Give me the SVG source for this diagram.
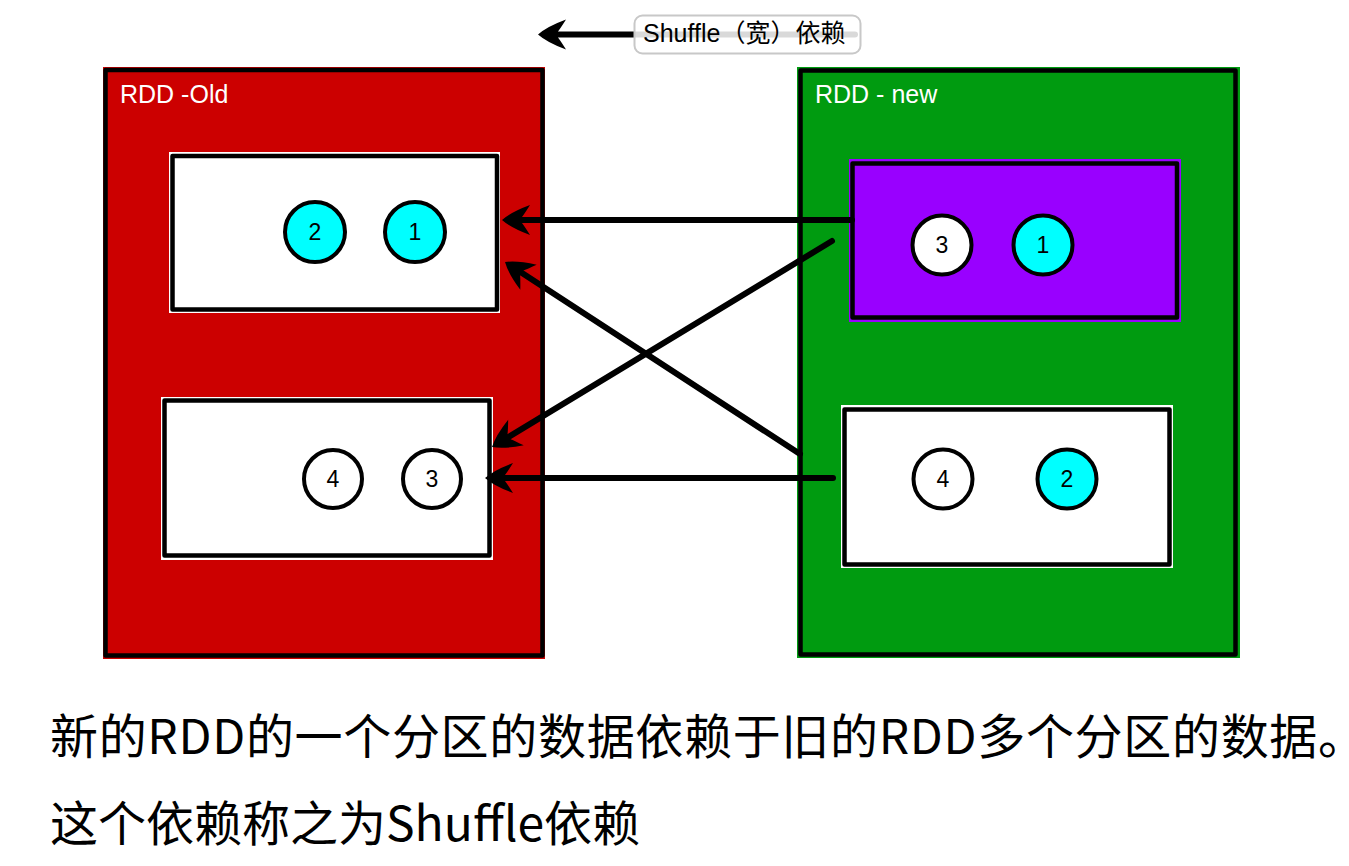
<svg xmlns="http://www.w3.org/2000/svg" width="1349" height="866" viewBox="0 0 1349 866">
<style>
.frame{stroke:#000;stroke-width:4.5;fill:none;stroke-linejoin:round}
.box{stroke:#000;stroke-width:4.5;fill:none;stroke-linejoin:round}
.ctitle{font-family:"Liberation Sans",Arial,sans-serif;font-size:25px;fill:#fff}
.dot{stroke:#000;stroke-width:4}
.cyan{fill:#00FFFF}
.white{fill:#FFFFFF}
.num{font-family:"Liberation Sans",Arial,sans-serif;font-size:23px;fill:#000;text-anchor:middle}
.conn{stroke:#000;stroke-width:6;stroke-linecap:round;fill:none}
.caption{font-family:"Noto Sans CJK SC","Liberation Sans",sans-serif;font-size:48px;fill:#000}
.half{font-feature-settings:"halt" 1}
.legend{font-family:"Liberation Sans","Noto Sans CJK SC",sans-serif;font-size:25px;fill:#000}
</style>
<defs>
<marker id="ah" markerUnits="userSpaceOnUse" markerWidth="60" markerHeight="60" viewBox="-40 -30 60 60" refX="-18" refY="0" orient="auto" overflow="visible">
<path d="M0,0 Q-9,-8 -28,-15 Q-23,-7 -20,-3 L-20,3 Q-23,7 -28,15 Q-9,8 0,0 Z" fill="#000"/>
</marker>
</defs>
<rect width="1349" height="866" fill="#fff"/>

<g id="rdd-old">
<rect x="103" y="67" width="442" height="592" fill="#CC0000"/>
<rect class="frame" x="105.5" y="70" width="437" height="585.5"/>
<text class="ctitle" x="120" y="103">RDD -Old</text>
</g>
<g id="rdd-new">
<rect x="797" y="67" width="443" height="591" fill="#009B10"/>
<rect class="frame" x="800.5" y="70.5" width="435" height="584"/>
<text class="ctitle" x="815" y="103">RDD - new</text>
</g>

<g id="old-partition-1">
<rect x="169" y="152" width="331" height="161" fill="#fff"/>
<rect class="box" x="172.5" y="156" width="324.5" height="153.5"/>
<g id="old-p1-item-2"><circle class="dot cyan" cx="315" cy="232" r="30"/><text class="num" x="315" y="240">2</text></g>
<g id="old-p1-item-1"><circle class="dot cyan" cx="415" cy="232" r="30"/><text class="num" x="415" y="240">1</text></g>
</g>
<g id="old-partition-2">
<rect x="161" y="397" width="332" height="163" fill="#fff"/>
<rect class="box" x="164.5" y="400.5" width="325" height="155"/>
<g id="old-p2-item-4"><circle class="dot white" cx="333" cy="479" r="29"/><text class="num" x="333" y="487">4</text></g>
<g id="old-p2-item-3"><circle class="dot white" cx="432" cy="479" r="29"/><text class="num" x="432" y="487">3</text></g>
</g>
<g id="new-partition-1">
<rect x="849" y="159" width="332" height="163" fill="#9900FF"/>
<rect class="box" x="852.5" y="163.5" width="324.5" height="154"/>
<g id="new-p1-item-3"><circle class="dot white" cx="942" cy="245" r="29.5"/><text class="num" x="942" y="253">3</text></g>
<g id="new-p1-item-1"><circle class="dot cyan" cx="1043" cy="245" r="29.5"/><text class="num" x="1043" y="253">1</text></g>
</g>
<g id="new-partition-2">
<rect x="841" y="405" width="332" height="163" fill="#fff"/>
<rect class="box" x="844.5" y="409.5" width="325" height="155"/>
<g id="new-p2-item-4"><circle class="dot white" cx="943" cy="479" r="29.5"/><text class="num" x="943" y="487">4</text></g>
<g id="new-p2-item-2"><circle class="dot cyan" cx="1067" cy="479" r="29.5"/><text class="num" x="1067" y="487">2</text></g>
</g>

<g id="connectors">
<path class="conn" d="M852,220 L520,220" marker-end="url(#ah)"/>
<path class="conn" d="M800,454 L520.1,271.8" marker-end="url(#ah)"/>
<path class="conn" d="M832,241 L507.4,437.7" marker-end="url(#ah)"/>
<path class="conn" d="M833,478 L503,478" marker-end="url(#ah)"/>
</g>

<g id="legend">
<path class="conn" d="M855,34.5 L556,34.5" marker-end="url(#ah)"/>
<rect x="634.5" y="15.5" width="226" height="38" rx="8" fill="#fff" fill-opacity="0.85" stroke="#c8c8c8" stroke-width="2"/>
<text class="legend" x="643" y="42">Shuffle（宽）依赖</text>
</g>

<g id="caption">
<text class="caption" x="50" y="754" textLength="1292" lengthAdjust="spacing">新的RDD的一个分区的数据依赖于旧的RDD多个分区的数据<tspan class="half">。</tspan></text>
<text class="caption" x="50" y="841">这个依赖称之为Shuffle依赖</text>
</g>
</svg>
